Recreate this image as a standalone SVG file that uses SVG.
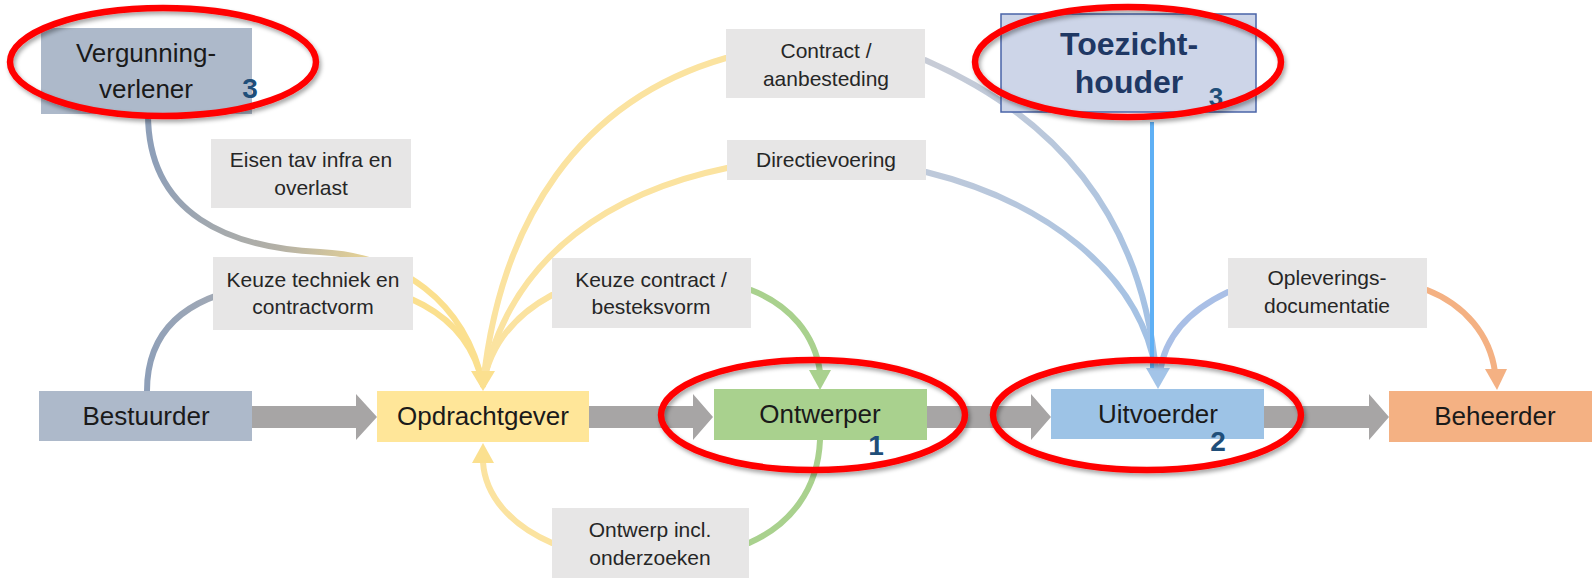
<svg xmlns="http://www.w3.org/2000/svg" width="1592" height="578" viewBox="0 0 1592 578">
<style>
.lbl rect{fill:#e7e6e6}
.lbl text{font-family:"Liberation Sans",Arial,sans-serif;font-size:21px;fill:#262626;text-anchor:middle}
.node text{font-family:"Liberation Sans",Arial,sans-serif;font-size:26px;fill:#1a1a1a;text-anchor:middle}
.node text.num,text.num{font-family:"Liberation Sans",Arial,sans-serif;font-weight:bold;font-size:28px;fill:#1f4e79;text-anchor:middle}
.c{fill:none;stroke-width:6;stroke-linecap:round}
.flow{fill:#a7a5a5}
.hl{fill:none;stroke:#ff0000;stroke-width:6.5;filter:url(#sh)}
</style>
<defs>
<linearGradient id="gV" gradientUnits="userSpaceOnUse" x1="150" y1="170" x2="400" y2="270">
<stop offset="0" stop-color="#8e9fb8"/><stop offset="0.55" stop-color="#b3b0a6"/><stop offset="1" stop-color="#fbe08f"/>
</linearGradient>
<linearGradient id="gB" gradientUnits="userSpaceOnUse" x1="150" y1="380" x2="420" y2="290">
<stop offset="0" stop-color="#8e9fb8"/><stop offset="0.35" stop-color="#a3aab5"/><stop offset="0.8" stop-color="#fbe08f"/><stop offset="1" stop-color="#fbe08f"/>
</linearGradient>
<linearGradient id="gU" gradientUnits="userSpaceOnUse" x1="925" y1="60" x2="1156" y2="370">
<stop offset="0" stop-color="#c8ccd6"/><stop offset="1" stop-color="#9fc0e6"/>
</linearGradient>
<filter id="sh" x="-10%" y="-20%" width="120%" height="140%">
<feDropShadow dx="2" dy="3" stdDeviation="2" flood-color="#000" flood-opacity="0.35"/>
</filter>
</defs>
<rect width="1592" height="578" fill="#ffffff"/>

<g id="connectors">
<path class="c" stroke="url(#gV)" d="M148,114 C148,215 230,248 320,252 C400,256 465,300 483,385"/>
<path class="c" stroke="url(#gB)" d="M147,391 C147,320 200,285 300,282 C400,279 468,312 483,385"/>
<path class="c" stroke="#fbe3a0" d="M726,58 C580,100 500,220 483,385"/>
<path class="c" stroke="#fbe3a0" d="M727,168 C620,190 510,250 483,385"/>
<path class="c" stroke="#fbe3a0" d="M552,295 C515,315 490,345 483,385"/>
<polygon fill="#fbe08f" points="471,371 495,371 483,391"/>
<path class="c" stroke="#a9d18e" d="M751,290 C790,305 815,335 820,372"/>
<polygon fill="#a9d18e" points="809,370 831,370 820,390"/>
<path class="c" stroke="#a9d18e" d="M820,440 C818,490 790,525 749,543"/>
<path class="c" stroke="#fbe3a0" d="M552,543 C510,525 485,495 483,462"/>
<polygon fill="#fbe08f" points="472,463 494,463 483,443"/>
<path class="c" stroke="url(#gU)" d="M925,60 C1040,110 1140,200 1156,372"/>
<path class="c" stroke="url(#gU)" d="M926,172 C1040,200 1140,270 1156,372"/>
<path class="c" stroke="#a9bfe6" d="M1228,292 C1190,310 1165,335 1160,372"/>
<line x1="1152" y1="122" x2="1152" y2="372" stroke="#5fb0f5" stroke-width="4"/>
<polygon fill="#a3c4e8" points="1146,368 1170,368 1158,389"/>
<path class="c" stroke="#f4b183" d="M1427,290 C1465,305 1490,335 1495,372"/>
<polygon fill="#f4b183" points="1485,369 1507,369 1497,390"/>
<path class="flow" d="M252,406 H356 V394 L377,417 L356,440 V428 H252 Z"/>
<path class="flow" d="M589,406 H693 V394 L713,417 L693,440 V428 H589 Z"/>
<path class="flow" d="M927,406 H1031 V394 L1051,417 L1031,440 V428 H927 Z"/>
<path class="flow" d="M1264,406 H1369 V394 L1389,417 L1369,440 V428 H1264 Z"/>
</g>

<g id="lbl-eisen" class="lbl"><rect x="211" y="139" width="200" height="69"/><text x="311" y="167">Eisen tav infra en</text><text x="311" y="195">overlast</text></g>
<g id="lbl-keuze-techniek" class="lbl"><rect x="213" y="257" width="200" height="73"/><text x="313" y="287">Keuze techniek en</text><text x="313" y="314">contractvorm</text></g>
<g id="lbl-contract" class="lbl"><rect x="726" y="29" width="199" height="69"/><text x="826" y="58">Contract /</text><text x="826" y="86">aanbesteding</text></g>
<g id="lbl-directie" class="lbl"><rect x="727" y="140" width="199" height="40"/><text x="826" y="167">Directievoering</text></g>
<g id="lbl-keuze-contract" class="lbl"><rect x="552" y="258" width="199" height="70"/><text x="651" y="287">Keuze contract /</text><text x="651" y="314">besteksvorm</text></g>
<g id="lbl-oplevering" class="lbl"><rect x="1228" y="258" width="199" height="70"/><text x="1327" y="285">Opleverings-</text><text x="1327" y="313">documentatie</text></g>
<g id="lbl-ontwerp" class="lbl"><rect x="552" y="508" width="197" height="70"/><text x="650" y="537">Ontwerp incl.</text><text x="650" y="565">onderzoeken</text></g>

<g id="node-vergunningverlener" class="node"><rect x="41" y="28" width="211" height="86" fill="#adb9ca"/><text x="146" y="62">Vergunning-</text><text x="146" y="98">verlener</text><text class="num" x="250" y="98">3</text></g>
<g id="node-toezichthouder"><rect x="1001" y="14" width="255" height="98" fill="#cdd5e8" stroke="#4a64a8" stroke-width="1.5"/><text x="1129" y="55" font-family="Liberation Sans,Arial,sans-serif" font-weight="bold" font-size="32" fill="#1f3864" text-anchor="middle">Toezicht-</text><text x="1129" y="93" font-family="Liberation Sans,Arial,sans-serif" font-weight="bold" font-size="32" fill="#1f3864" text-anchor="middle">houder</text><text class="num" x="1216" y="106" style="font-size:26px">3</text></g>
<g id="node-bestuurder" class="node"><rect x="39" y="391" width="213" height="50" fill="#adb9ca"/><text x="146" y="425">Bestuurder</text></g>
<g id="node-opdrachtgever" class="node"><rect x="377" y="391" width="212" height="51" fill="#ffe699"/><text x="483" y="425">Opdrachtgever</text></g>
<g id="node-ontwerper" class="node"><rect x="714" y="389" width="213" height="51" fill="#a9d18e"/><text x="820" y="423">Ontwerper</text><text class="num" x="876" y="455">1</text></g>
<g id="node-uitvoerder" class="node"><rect x="1051" y="389" width="213" height="50" fill="#9dc3e6"/><text x="1158" y="423">Uitvoerder</text><text class="num" x="1218" y="451">2</text></g>
<g id="node-beheerder" class="node"><rect x="1389" y="391" width="203" height="51" fill="#f4b183"/><text x="1495" y="425">Beheerder</text></g>

<g id="highlights">
<ellipse class="hl" cx="163" cy="62" rx="153" ry="54"/>
<ellipse class="hl" cx="1128" cy="62" rx="153" ry="55"/>
<ellipse class="hl" cx="813" cy="415" rx="152" ry="55"/>
<ellipse class="hl" cx="1147" cy="415" rx="154" ry="55"/>
</g>
</svg>
